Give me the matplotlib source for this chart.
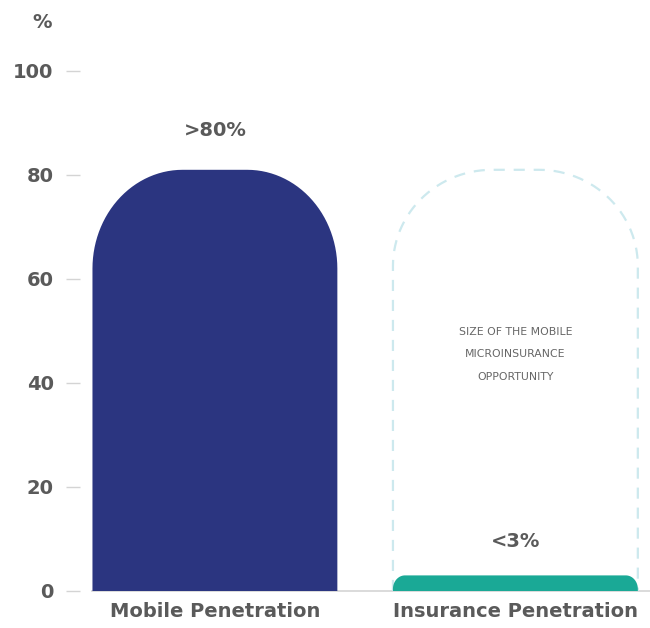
import numpy as np
import matplotlib
matplotlib.use('Agg')
import matplotlib.pyplot as plt
from matplotlib.path import Path
from matplotlib.patches import PathPatch

# data
categories = ['Mobile Penetration', 'Insurance Penetration']
values = [81, 3]
value_labels = ['>80%', '<3%']
opportunity_height = 81
opportunity_text = 'SIZE OF THE MOBILE\nMICROINSURANCE\nOPPORTUNITY'
yticks = [0, 20, 40, 60, 80, 100]

plt.rcParams['font.family'] = ['DejaVu Sans']
TXT = '#5a5a5a'


def rounded_top(x0, width, height, rx, ry):
    # bar outline with elliptical top corners
    rx = min(rx, width / 2)
    ry = min(ry, height)
    t = np.linspace(np.pi, np.pi / 2, 30)
    left = np.column_stack([x0 + rx + rx * np.cos(t), height - ry + ry * np.sin(t)])
    t = np.linspace(np.pi / 2, 0, 30)
    right = np.column_stack([x0 + width - rx + rx * np.cos(t), height - ry + ry * np.sin(t)])
    pts = np.vstack([[x0, 0], left, right, [x0 + width, 0]])
    return Path(pts)


fig = plt.figure(figsize=(6.5, 6.28), dpi=100)
ax = fig.add_axes([80 / 650, 37 / 628, 570 / 650, 520 / 628])

x = np.arange(len(categories))
width = 0.815
xleft = x - width / 2

ax.set_xlim(-0.449, 1.448)
ax.set_ylim(0, 100)

# baseline
ax.plot([xleft[0], 1.448], [0, 0], color='#d4d4d4', lw=1.2, zorder=1, clip_on=False)

# opportunity outline
p = rounded_top(xleft[1], width, opportunity_height, 0.33, 18.5)
ax.add_patch(PathPatch(p, facecolor='none', edgecolor='#cde9ee', lw=1.6,
                       linestyle=(0, (5, 4)), zorder=2))
ax.text(x[1], 45.5, opportunity_text, ha='center', va='center', fontsize=7.8,
        color='#666666', linespacing=2.55)

colors = ['#2b3580', '#1aa996']
radii = [(0.30, 19), (0.04, 2.6)]
for xi, h, c, (rx, ry) in zip(xleft, values, colors, radii):
    ax.add_patch(PathPatch(rounded_top(xi, width, h, rx, ry), facecolor=c,
                           edgecolor='none', zorder=3))

ax.text(x[0], 88.6, value_labels[0], ha='center', va='center', fontsize=14,
        fontweight='bold', color=TXT)
ax.text(x[1], 9.6, value_labels[1], ha='center', va='center', fontsize=14,
        fontweight='bold', color=TXT)

ax.set_yticks(yticks)
ax.set_yticklabels([str(t) for t in yticks], fontsize=14, fontweight='bold', color=TXT)
ax.tick_params(axis='y', length=10, width=1, color='#d4d4d4', pad=9)
ax.set_xticks(x)
ax.set_xticklabels(categories, fontsize=14, fontweight='bold', color=TXT)
ax.tick_params(axis='x', length=0, pad=8)
for s in ax.spines.values():
    s.set_visible(False)

fig.text(52 / 650, 1 - 22 / 628, '%', ha='right', va='center',
         fontsize=14, fontweight='bold', color=TXT)

fig.savefig('out.png', dpi=100)
